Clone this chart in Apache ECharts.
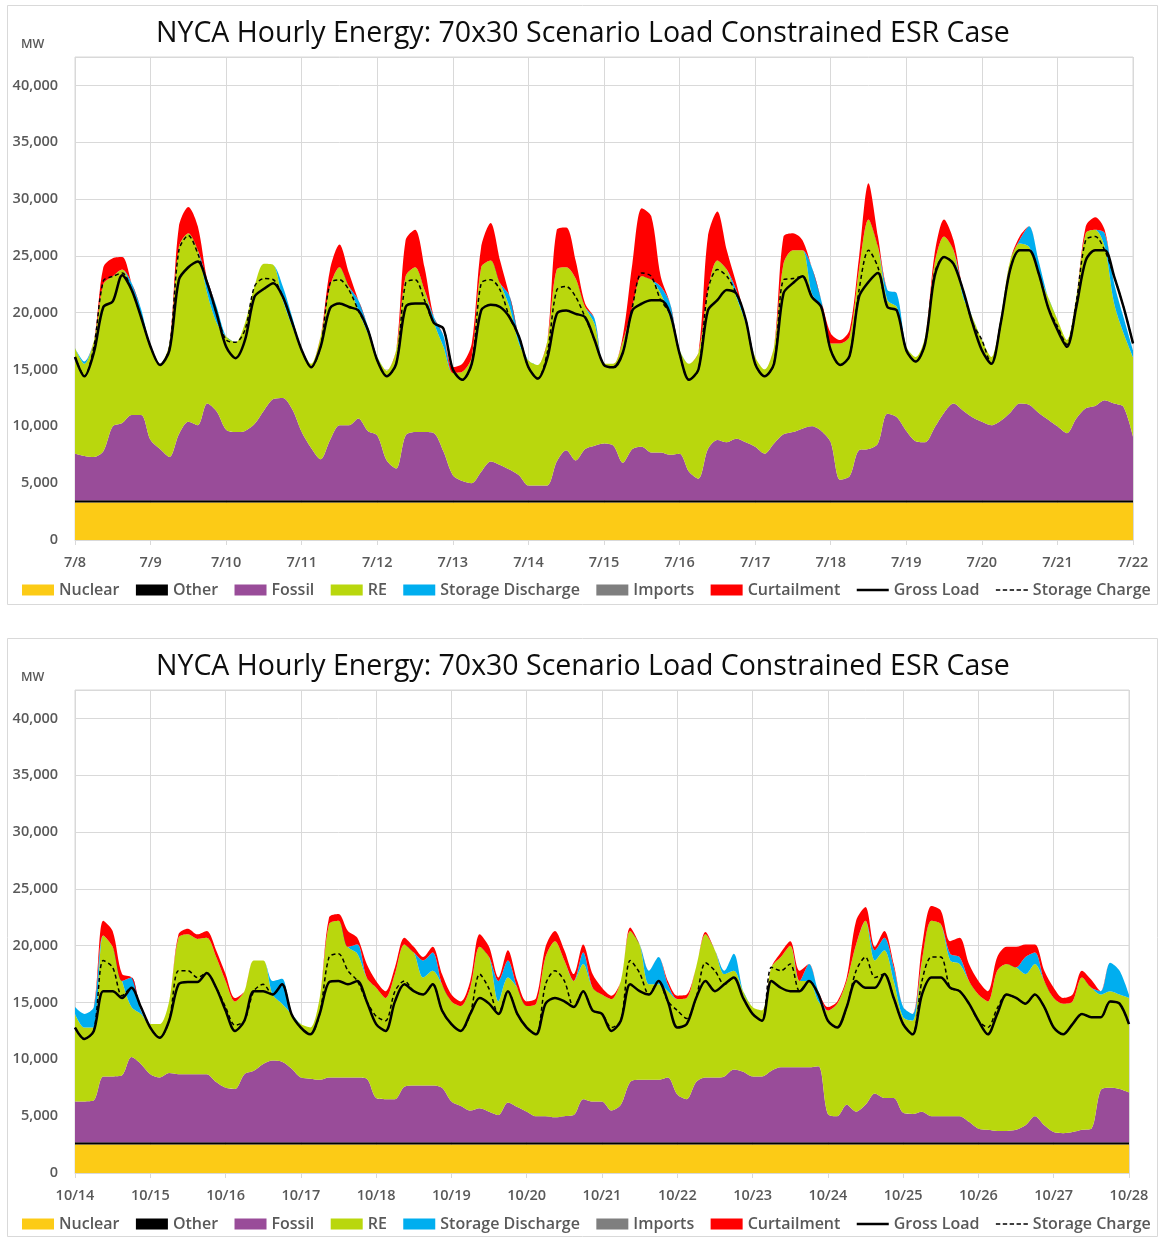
<!DOCTYPE html>
<html><head><meta charset="utf-8">
<script src="https://cdn.jsdelivr.net/npm/echarts@6/dist/echarts.min.js"></script>
<style>html,body{margin:0;padding:0;background:#fff;}#c{width:1159px;height:1237px;}</style>
</head><body><div id="c"></div>
<script>
// ---- tick labels (one per day; data sampled every 3 hours) ----
const dayLabelsJul = ['7/8','7/9','7/10','7/11','7/12','7/13','7/14','7/15','7/16','7/17','7/18','7/19','7/20','7/21','7/22'];
const dayLabelsOct = ['10/14','10/15','10/16','10/17','10/18','10/19','10/20','10/21','10/22','10/23','10/24','10/25','10/26','10/27','10/28'];
const seriesNames = ['Nuclear','Other','Fossil','RE','Storage Discharge','Imports','Curtailment','Gross Load','Storage Charge'];

// ---- July chart (thousand MW, 3-hourly) ----
const nuclearJul = [
3.3,3.3,3.3,3.3,3.3,3.3,3.3,3.3, 3.3,3.3,3.3,3.3,3.3,3.3,3.3,3.3, 3.3,3.3,3.3,3.3,3.3,3.3,3.3,3.3,
3.3,3.3,3.3,3.3,3.3,3.3,3.3,3.3, 3.3,3.3,3.3,3.3,3.3,3.3,3.3,3.3, 3.3,3.3,3.3,3.3,3.3,3.3,3.3,3.3,
3.3,3.3,3.3,3.3,3.3,3.3,3.3,3.3, 3.3,3.3,3.3,3.3,3.3,3.3,3.3,3.3, 3.3,3.3,3.3,3.3,3.3,3.3,3.3,3.3,
3.3,3.3,3.3,3.3,3.3,3.3,3.3,3.3, 3.3,3.3,3.3,3.3,3.3,3.3,3.3,3.3, 3.3,3.3,3.3,3.3,3.3,3.3,3.3,3.3,
3.3,3.3,3.3,3.3,3.3,3.3,3.3,3.3, 3.3,3.3,3.3,3.3,3.3,3.3,3.3,3.3, 3.3];
const otherJul = [
0.2,0.2,0.2,0.2,0.2,0.2,0.2,0.2, 0.2,0.2,0.2,0.2,0.2,0.2,0.2,0.2, 0.2,0.2,0.2,0.2,0.2,0.2,0.2,0.2,
0.2,0.2,0.2,0.2,0.2,0.2,0.2,0.2, 0.2,0.2,0.2,0.2,0.2,0.2,0.2,0.2, 0.2,0.2,0.2,0.2,0.2,0.2,0.2,0.2,
0.2,0.2,0.2,0.2,0.2,0.2,0.2,0.2, 0.2,0.2,0.2,0.2,0.2,0.2,0.2,0.2, 0.2,0.2,0.2,0.2,0.2,0.2,0.2,0.2,
0.2,0.2,0.2,0.2,0.2,0.2,0.2,0.2, 0.2,0.2,0.2,0.2,0.2,0.2,0.2,0.2, 0.2,0.2,0.2,0.2,0.2,0.2,0.2,0.2,
0.2,0.2,0.2,0.2,0.2,0.2,0.2,0.2, 0.2,0.2,0.2,0.2,0.2,0.2,0.2,0.2, 0.2];
const fossilJul = [
4.1,3.9,3.8,4.3,6.5,6.8,7.5,7.5,
5.3,4.5,3.8,5.8,6.9,6.6,8.5,7.8,
6.2,6.0,6.1,6.7,7.9,8.9,9.0,8.0,
6.0,4.6,3.6,5.3,6.6,6.6,7.2,6.1,
5.7,3.5,2.8,5.7,6.0,6.0,5.9,4.3,
2.2,1.7,1.5,2.5,3.4,3.1,2.7,2.2,
1.3,1.3,1.3,3.4,4.4,3.5,4.5,4.8,
5.0,4.8,3.3,4.5,4.7,4.2,4.2,4.0,
4.1,2.5,1.9,4.5,5.3,5.1,5.4,5.1,
4.7,4.1,5.0,5.8,6.0,6.3,6.5,6.1,
5.1,1.8,2.1,4.4,4.5,5.0,7.6,7.3,
6.1,5.2,5.1,6.4,7.7,8.5,7.9,7.3,
6.9,6.6,7.0,7.7,8.5,8.4,7.7,7.1,
6.5,5.9,7.2,8.1,8.3,8.8,8.5,8.2,
5.6];
const reJul = [
9.3,8.1,10.2,14.7,13.2,13.5,11.0,8.6,
8.2,7.5,10.0,16.5,16.6,15.4,9.7,7.8,
8.2,7.9,9.5,12.1,12.9,11.8,8.6,7.3,
7.2,7.4,10.8,13.5,13.9,12.2,9.5,8.6,
6.9,7.9,10.4,14.0,14.5,12.5,9.7,9.2,
9.0,9.6,11.1,18.0,17.7,16.0,14.3,11.6,
11.0,10.6,12.7,16.9,16.1,16.0,12.5,10.7,
7.0,7.2,10.7,12.5,15.0,15.2,14.0,12.1,
9.1,9.5,11.1,14.0,15.8,15.2,12.5,10.5,
7.9,7.4,8.5,15.0,16.0,15.7,11.7,10.9,
8.7,12.0,12.3,15.9,20.2,17.3,10.0,9.7,
7.4,7.4,9.3,14.4,15.5,13.5,10.0,8.8,
7.2,6.0,9.1,13.4,14.1,13.9,12.3,10.8,
9.4,8.2,10.7,15.4,15.5,13.5,8.8,6.5,
7.0];
const dischargeJul = [
0,0.2,0,0,0,0,0.6,0.7,
0,0,0,0,0,0,1.2,1.4,
0,0,0,0,0,0,1.2,0.8,
0,0,0,0,0,0,0.9,0.6,
0,0,0,0,0,0,0.5,1.0,
0,0,0,0,0,0,1.0,0.6,
0,0,0,0,0,0,0,0.5,
0,0,0,0,0,0,0.6,1.2,
0,0,0,0,0,0,0.6,0.3,
0,0,0,0,0,0,2.3,0.6,
0,0,0,0,0,0,0.9,1.2,
0,0,0,0,0,0,0.6,0,
0,0,0,0,0.3,1.8,1.1,0,
0,0,0,0,0,1.2,1.8,1.4,
0.6];
const importsJul = [
0,0,0,0,0,0,0,0, 0,0,0,0,0,0,0,0, 0,0,0,0,0,0,0,0, 0,0,0,0,0,0,0,0, 0,0,0,0,0,0,0,0,
0,0,0,0,0,0,0,0, 0,0,0,0,0,0,0,0, 0,0,0,0,0,0,0,0, 0,0,0,0,0,0,0,0, 0,0,0,0,0,0,0,0,
0,0,0,0,0,0,0,0, 0,0,0,0,0,0,0,0, 0,0,0,0,0,0,0,0, 0,0,0,0,0,0,0,0, 0];
const curtailJul = [
0,0,0,1.5,1.6,1.1,0,0,
0,0,0,1.8,2.3,2.1,0,0,
0,0,0,0,0,0,0,0,
0,0,0,1.5,2.0,1.2,0,0,
0,0,0,3.2,3.3,2.0,0,0,
0.5,0.7,1.2,1.8,3.3,2.0,0,0,
0,0,0,3.5,3.5,1.6,0.3,0,
0,0,0.5,3.8,6.0,5.6,0.9,0,
0,0,0,4.7,4.3,1.7,0.6,0,
0,0,0,2.4,1.5,0.9,0,0,
0.9,0.3,0.6,1.1,3.2,0.9,0,0,
0,0,0,0.9,1.5,0.9,0,0,
0,0,0,0,0.3,0,0,0,
0,0,0,0.6,1.1,0.3,0,0,
0];
const grossLoadJul = [
16.1,14.4,16.5,20.5,21.0,23.3,22.0,19.6,
17.0,15.4,16.7,22.9,24.0,24.5,22.6,19.9,
17.0,16.0,17.6,21.4,22.1,22.6,21.4,19.1,
16.7,15.2,17.0,20.4,20.8,20.5,20.2,18.5,
15.8,14.4,15.5,20.5,20.8,20.8,19.1,18.6,
15.0,14.1,15.5,20.2,20.7,20.5,19.6,17.9,
15.2,14.2,16.0,19.9,20.2,19.9,19.6,17.6,
15.4,15.2,16.5,20.2,20.8,21.1,21.1,19.9,
16.4,14.1,15.0,20.2,21.1,22.0,21.7,19.4,
15.5,14.4,15.5,21.7,22.6,23.2,21.4,20.5,
16.7,15.4,16.2,21.4,22.7,23.5,20.5,20.2,
16.7,15.7,17.3,23.2,24.9,24.3,22.0,19.1,
16.7,15.5,19.1,23.8,25.5,25.5,23.5,20.5,
18.5,17.0,20.5,24.6,25.5,25.5,23.2,20.5,
17.3];
const storageChargeJul = [
16.1,14.4,17.0,22.8,23.2,23.5,22.0,19.6,
17.0,15.4,16.9,25.5,26.8,25.2,22.6,19.9,
17.6,17.4,18.5,22.3,23.0,22.9,21.4,19.1,
16.7,15.2,17.0,22.6,22.9,22.0,20.2,18.5,
15.8,14.4,15.5,22.6,22.9,21.1,19.1,18.6,
15.0,14.1,15.5,22.6,22.9,22.0,19.6,17.9,
15.2,14.2,16.5,22.0,22.3,21.4,19.6,17.6,
15.4,15.2,16.5,20.5,23.5,23.2,21.1,19.9,
16.4,14.1,15.0,22.0,23.8,23.2,21.7,19.4,
15.5,14.4,15.5,22.9,23.0,23.2,21.4,20.5,
16.7,15.4,16.2,22.0,25.5,24.0,20.5,20.2,
16.7,15.7,17.3,23.5,24.9,24.3,22.0,19.1,
17.6,15.5,19.1,23.8,25.5,25.5,23.5,20.5,
18.8,17.2,21.0,26.4,26.7,25.5,23.2,20.5,
17.3];

// ---- October chart (thousand MW, 3-hourly) ----
const nuclearOct = [
2.5,2.5,2.5,2.5,2.5,2.5,2.5,2.5, 2.5,2.5,2.5,2.5,2.5,2.5,2.5,2.5, 2.5,2.5,2.5,2.5,2.5,2.5,2.5,2.5,
2.5,2.5,2.5,2.5,2.5,2.5,2.5,2.5, 2.5,2.5,2.5,2.5,2.5,2.5,2.5,2.5, 2.5,2.5,2.5,2.5,2.5,2.5,2.5,2.5,
2.5,2.5,2.5,2.5,2.5,2.5,2.5,2.5, 2.5,2.5,2.5,2.5,2.5,2.5,2.5,2.5, 2.5,2.5,2.5,2.5,2.5,2.5,2.5,2.5,
2.5,2.5,2.5,2.5,2.5,2.5,2.5,2.5, 2.5,2.5,2.5,2.5,2.5,2.5,2.5,2.5, 2.5,2.5,2.5,2.5,2.5,2.5,2.5,2.5,
2.5,2.5,2.5,2.5,2.5,2.5,2.5,2.5, 2.5,2.5,2.5,2.5,2.5,2.5,2.5,2.5, 2.5];
const otherOct = [
0.2,0.2,0.2,0.2,0.2,0.2,0.2,0.2, 0.2,0.2,0.2,0.2,0.2,0.2,0.2,0.2, 0.2,0.2,0.2,0.2,0.2,0.2,0.2,0.2,
0.2,0.2,0.2,0.2,0.2,0.2,0.2,0.2, 0.2,0.2,0.2,0.2,0.2,0.2,0.2,0.2, 0.2,0.2,0.2,0.2,0.2,0.2,0.2,0.2,
0.2,0.2,0.2,0.2,0.2,0.2,0.2,0.2, 0.2,0.2,0.2,0.2,0.2,0.2,0.2,0.2, 0.2,0.2,0.2,0.2,0.2,0.2,0.2,0.2,
0.2,0.2,0.2,0.2,0.2,0.2,0.2,0.2, 0.2,0.2,0.2,0.2,0.2,0.2,0.2,0.2, 0.2,0.2,0.2,0.2,0.2,0.2,0.2,0.2,
0.2,0.2,0.2,0.2,0.2,0.2,0.2,0.2, 0.2,0.2,0.2,0.2,0.2,0.2,0.2,0.2, 0.2];
const fossilOct = [
3.6,3.6,3.7,5.8,5.8,5.9,7.5,6.9,
6.0,5.7,6.1,6.0,6.0,6.0,6.0,5.3,
4.8,4.7,6.0,6.3,6.9,7.2,7.1,6.5,
5.7,5.6,5.5,5.7,5.7,5.7,5.7,5.6,
3.9,3.8,3.8,4.9,5.0,5.0,5.0,4.8,
3.6,3.2,2.8,3.0,2.7,2.4,3.5,3.1,
2.7,2.3,2.3,2.2,2.3,2.4,3.8,3.6,
3.6,2.8,3.3,5.3,5.5,5.5,5.5,5.7,
4.2,3.8,5.3,5.7,5.7,5.8,6.4,6.2,
5.8,5.8,6.3,6.6,6.6,6.6,6.6,6.7,
2.5,2.3,3.3,2.7,3.3,4.3,3.9,3.9,
2.6,2.5,2.7,2.3,2.3,2.3,2.3,1.8,
1.2,1.1,1.0,1.0,1.1,1.5,2.3,1.5,
0.9,0.8,0.9,1.1,1.2,4.6,4.8,4.7,
4.4];
const reOct = [
7.7,6.5,6.4,12.4,11.4,8.3,4.4,4.4,
4.4,4.7,6.3,12.0,12.3,11.9,12.0,11.0,
9.4,7.7,7.3,9.7,9.1,5.8,5.1,4.8,
4.7,4.5,7.2,13.5,13.8,11.5,10.9,8.9,
9.7,8.9,11.0,12.5,11.7,9.5,10.1,9.1,
8.8,8.8,10.8,14.2,13.6,10.0,11.0,10.5,
9.3,9.9,14.0,15.5,13.7,11.8,11.9,10.0,
9.4,9.8,10.9,13.3,11.9,8.4,8.4,7.6,
8.4,8.9,10.1,12.6,11.2,9.0,8.7,7.1,
6.1,5.8,9.1,9.7,10.7,7.6,7.6,5.7,
9.1,9.9,10.9,14.7,16.2,11.7,13.0,10.3,
8.4,8.2,13.3,17.2,16.9,13.7,13.4,12.4,
11.8,11.3,14.1,14.7,14.3,13.3,13.4,12.7,
11.8,11.4,11.5,13.4,12.4,8.4,8.5,8.3,
8.3];
const dischargeOct = [
0.6,1.2,1.8,0,0,0,2.6,0.3,
0,0,0,0,0,0,0,0,
0,0,0,0,0,1.2,2.2,0,
0,0,0,0,0,0,0.8,0,
0,0,0,0,0,1.5,1.6,0,
0,0,0,0,0,1.8,1.5,0,
0,0,0,0,0,0,1.0,0,
0,0,0,0,0,1.2,2.4,0.6,
0,0,0,0,0,0.3,1.5,0,
0,0,0,0,0,0,1.5,0.9,
0,0,0,0,0,0.9,1.1,1.2,
0.9,0.6,0,0,0,0.6,0.6,0,
0,0,0,0,0,1.5,1.0,0,
0,0,0,0,0,0.3,2.5,2.1,
0.3];
const importsOct = [
0,0,0,0,0,0,0,0, 0,0,0,0,0,0,0,0, 0,0,0,0,0,0,0,0, 0,0,0,0,0,0,0,0, 0,0,0,0,0,0,0,0,
0,0,0,0,0,0,0,0, 0,0,0,0,0,0,0,0, 0,0,0,0,0,0,0,0, 0,0,0,0,0,0,0,0, 0,0,0,0,0,0,0,0,
0,0,0,0,0,0,0,0, 0,0,0,0,0,0,0,0, 0,0,0,0,0,0,0,0, 0,0,0,0,0,0,0,0, 0];
const curtailOct = [
0,0,0,1.3,1.4,0.6,0,0,
0,0,0,0.3,0.5,0.4,0.6,0.6,
0.6,0.3,0,0,0,0,0,0,
0,0,0,0.6,0.6,1.4,0.6,1.2,
0.6,0.6,0.6,0.6,0.5,0.3,0.5,0.9,
0.6,0.4,0.6,1.1,0.9,0.3,0.9,0.6,
0.4,0.5,0.9,0.9,0.9,0.6,0.7,1.2,
0.6,0.3,0,0.3,0,0,0,0.3,
0.3,0.3,0,0.2,0,0,0,0,
0,0,0,0.4,0.4,0.9,0,0,
0.3,0.2,0.3,2.1,1.2,0.3,0.6,0.3,
0,0,1.2,1.3,1.2,1.1,1.7,1.5,
1.2,0.9,1.2,1.5,1.8,1.1,0.7,0.9,
0.9,0.5,0.6,0.6,0.7,0,0,0,
0];
const grossLoadOct = [
12.8,11.8,12.5,16.0,16.0,15.4,16.3,14.6,
12.8,11.9,13.4,16.6,16.8,16.8,17.6,16.3,
14.3,12.5,13.4,16.0,16.0,15.7,16.6,14.0,
12.8,12.2,14.0,16.8,16.9,16.6,16.9,15.1,
13.1,12.5,15.1,16.6,16.0,15.7,16.6,14.3,
13.1,12.5,14.0,15.4,14.9,14.0,16.0,14.0,
12.8,12.2,14.9,15.4,15.1,14.6,16.0,14.3,
14.0,12.5,13.4,16.6,16.0,15.7,16.9,15.1,
12.8,13.1,15.4,16.9,16.0,16.6,17.2,15.4,
14.0,13.4,16.9,16.3,16.0,16.0,16.9,15.7,
13.4,12.8,14.6,16.9,16.3,16.3,17.5,15.4,
13.1,12.2,15.7,17.2,17.2,16.3,16.0,14.9,
13.4,12.2,14.0,15.7,15.4,14.9,15.7,14.6,
12.8,12.2,13.1,14.0,13.7,13.7,15.1,14.9,
13.1];
const storageChargeOct = [
12.8,11.8,12.5,18.7,18.1,15.6,16.3,14.6,
12.8,11.9,13.4,17.8,17.8,17.2,17.6,16.3,
14.6,13.0,13.4,16.0,16.6,15.7,16.6,14.0,
12.8,12.2,14.0,19.0,19.3,17.8,16.9,15.1,
13.8,13.4,16.0,16.9,16.0,15.7,16.6,14.3,
13.1,12.5,14.0,17.5,16.2,14.0,16.0,14.0,
12.8,12.2,16.6,17.8,16.9,14.6,16.0,14.3,
14.0,12.8,13.4,18.7,17.6,15.7,16.9,15.1,
14.3,13.6,15.4,18.5,17.8,16.6,17.2,15.4,
14.0,13.4,18.1,17.8,18.4,16.0,16.9,15.7,
13.4,12.8,14.6,17.8,19.0,17.2,17.5,15.4,
13.1,12.2,16.9,19.0,19.0,16.3,16.0,14.9,
13.4,12.8,14.5,15.7,15.4,14.9,15.7,14.6,
12.8,12.2,13.1,14.0,13.7,13.7,15.1,14.9,
13.1];

// ---- build ----
const FONT = '"Open Sans","Noto Sans",sans-serif';
const TITLE = 'NYCA Hourly Energy: 70x30 Scenario Load Constrained ESR Case';
const COLORS = {'Nuclear':'#FCCB16','Other':'#000000','Fossil':'#994C99','RE':'#B9D70D','Storage Discharge':'#00AEEF','Imports':'#7F7F7F','Curtailment':'#FF0000'};
const LINE_ICONS = {
  'Gross Load':'path://M0,0H32V2.6H0Z',
  'Storage Charge':'path://M0,0H4.4V1.6H0Z M6.9,0H11.3V1.6H6.9Z M13.8,0H18.2V1.6H13.8Z M20.7,0H25.1V1.6H20.7Z M27.6,0H32V1.6H27.6Z'
};
const GRID_C = '#d9d9d9', TEXT_C = '#595959';

function makeCats(days){
  const out = [];
  days.forEach((d,i)=>{
    if (i < days.length-1) { for (let h=0; h<8; h++) out.push(d+' '+(h*3)+':00'); }
    else out.push(d+' 0:00');
  });
  return out;
}

function makeSeries(k, d){
  const area = (name, data) => ({
    name, type:'line', xAxisIndex:k, yAxisIndex:k, data, stack:'supply'+k,
    symbol:'none', smooth:0.3, lineStyle:{width:0},
    itemStyle:{color:COLORS[name]}, areaStyle:{color:COLORS[name], opacity:1},
    emphasis:{disabled:true}, silent:true, z:2
  });
  return [
    area('Nuclear', d.nuclear), area('Other', d.other), area('Fossil', d.fossil), area('RE', d.re),
    area('Storage Discharge', d.discharge), area('Imports', d.imports), area('Curtailment', d.curtail),
    {name:'Storage Charge', type:'line', xAxisIndex:k, yAxisIndex:k, data:d.charge, symbol:'none', smooth:0.3,
     lineStyle:{color:'#000', width:1.5, type:[4,3]}, itemStyle:{color:'#000'}, emphasis:{disabled:true}, silent:true, z:4},
    {name:'Gross Load', type:'line', xAxisIndex:k, yAxisIndex:k, data:d.load, symbol:'none', smooth:0.3,
     lineStyle:{color:'#000', width:2.5}, itemStyle:{color:'#000'}, emphasis:{disabled:true}, silent:true, z:5}
  ];
}

function xAx(k, cats){
  return {gridIndex:k, type:'category', data:cats, boundaryGap:false,
    axisLine:{show:true, lineStyle:{color:GRID_C}},
    axisTick:{show:true, interval:7, length:5, lineStyle:{color:GRID_C}},
    axisLabel:{interval:7, formatter:v=>v.split(' ')[0], fontFamily:FONT, fontSize:14.5, fontWeight:600, color:TEXT_C, margin:15},
    splitLine:{show:true, interval:7, lineStyle:{color:GRID_C}}};
}
function yAx(k){
  return {gridIndex:k, type:'value', min:0, max:42.5, interval:5,
    axisLine:{show:false}, axisTick:{show:false},
    splitLine:{show:true, lineStyle:{color:GRID_C}},
    axisLabel:{formatter:v=> (v%5===0 ? (v*1000).toLocaleString('en-US') : ''), fontFamily:FONT, fontSize:14.5, fontWeight:600, color:TEXT_C, margin:17}};
}
function legend(top){
  return {top, left:17, width:1140, itemWidth:32, itemHeight:11, itemGap:16.4, selectedMode:false,
    textStyle:{fontFamily:FONT, fontSize:16, fontWeight:600, color:TEXT_C},
    data: seriesNames.map(n => COLORS[n] ? {name:n, icon:'rect'} : {name:n, icon:LINE_ICONS[n]})};
}

const catsJul = makeCats(dayLabelsJul);
const catsOct = makeCats(dayLabelsOct);

const chart = echarts.init(document.getElementById('c'));
chart.setOption({
  animation:false,
  backgroundColor:'#fff',
  title:[
    {text:TITLE, left:151, top:14, textStyle:{fontFamily:FONT, fontSize:28.5, fontWeight:'normal', color:'#0d0d0d'}},
    {text:TITLE, left:151, top:647, textStyle:{fontFamily:FONT, fontSize:28.5, fontWeight:'normal', color:'#0d0d0d'}}
  ],
  graphic:[
    {type:'rect', shape:{x:7.5, y:5.5, width:1150, height:599}, style:{fill:'none', stroke:'#d9d9d9', lineWidth:1}, silent:true, z:-1},
    {type:'rect', shape:{x:7.5, y:638.5, width:1150, height:598}, style:{fill:'none', stroke:'#d9d9d9', lineWidth:1}, silent:true, z:-1},
    {type:'text', left:21, top:38, style:{text:'MW', font:'600 12.5px '+FONT, fill:TEXT_C}, silent:true},
    {type:'text', left:21, top:671, style:{text:'MW', font:'600 12.5px '+FONT, fill:TEXT_C}, silent:true}
  ],
  legend:[legend(577), legend(1211)],
  grid:[
    {left:75, top:57, width:1058, height:483, show:true, borderColor:GRID_C, borderWidth:1},
    {left:75, top:690, width:1054, height:483, show:true, borderColor:GRID_C, borderWidth:1}
  ],
  xAxis:[xAx(0, catsJul), xAx(1, catsOct)],
  yAxis:[yAx(0), yAx(1)],
  series:[].concat(
    makeSeries(0, {nuclear:nuclearJul, other:otherJul, fossil:fossilJul, re:reJul, discharge:dischargeJul, imports:importsJul, curtail:curtailJul, load:grossLoadJul, charge:storageChargeJul}),
    makeSeries(1, {nuclear:nuclearOct, other:otherOct, fossil:fossilOct, re:reOct, discharge:dischargeOct, imports:importsOct, curtail:curtailOct, load:grossLoadOct, charge:storageChargeOct})
  )
});
</script></body></html>
